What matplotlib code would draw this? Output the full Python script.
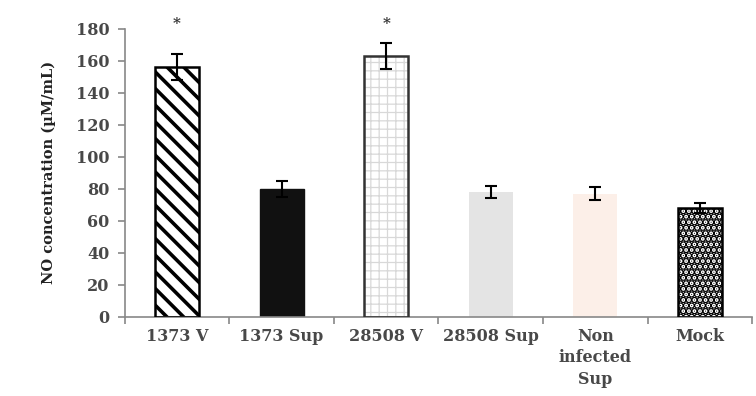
import numpy as np
import matplotlib
matplotlib.use("Agg")
import matplotlib.pyplot as plt
from matplotlib.ticker import FixedLocator

# ── Data ──────────────────────────────────────────────────────────────────────
categories = ["1373 V", "1373 Sup", "28508 V", "28508 Sup", "Non\ninfected\nSup", "Mock"]
no_conc = [156, 80, 163, 78, 77, 68]
no_err = [8, 5, 8, 4, 4, 3]
significant = [True, False, True, False, False, False]

# ── Style per bar ─────────────────────────────────────────────────────────────
faces = ["white", "#111111", "white", "#e4e4e4", "#fcefe8", "white"]
hatches = ["\\\\", None, "++", None, None, "..."]
hatch_colors = ["black", None, "#d8d8d8", None, None, "black"]
hatch_widths = [2.6, 1.0, 0.9, 1.0, 1.0, 3.6]
edges = ["black", "#111111", "#333333", "none", "none", "black"]

plt.rcParams["font.family"] = ["DejaVu Serif"]

fig = plt.figure(figsize=(7.56, 3.96), dpi=100)
ax = fig.add_axes([0.165, 0.20, 0.830, 0.727])

x = np.arange(len(categories))
width = 0.42
for i in range(len(categories)):
    if hatches[i]:
        # hatch layer first, then an outline on top
        b = ax.bar(x[i], no_conc[i], width, color=faces[i], edgecolor=hatch_colors[i],
                   hatch=hatches[i], linewidth=0, zorder=2)
        for p in b:
            if hasattr(p, "set_hatch_linewidth"):
                p.set_hatch_linewidth(hatch_widths[i])
        ax.bar(x[i], no_conc[i], width, color="none", edgecolor=edges[i],
               linewidth=1.8, zorder=3)
    else:
        ax.bar(x[i], no_conc[i], width, color=faces[i], edgecolor=edges[i],
               linewidth=1.0, zorder=2)

ax.errorbar(x, no_conc, yerr=no_err, fmt="none", ecolor="black", elinewidth=1.5,
            capsize=4.5, capthick=1.5, zorder=4)

for xi, sig in zip(x, significant):
    if sig:
        ax.text(xi, 179, "*", ha="center", va="bottom", fontsize=11,
                fontweight="bold", color="#333333", clip_on=False)

ax.set_xlim(-0.5, len(categories) - 0.5)
ax.set_ylim(0, 180)
ax.set_yticks(np.arange(0, 181, 20))

# category ticks sit between bars; labels go on minor positions
ax.xaxis.set_major_locator(FixedLocator(np.arange(-0.5, len(categories), 1.0)))
ax.set_xticklabels([])
ax.xaxis.set_minor_locator(FixedLocator(x))
ax.set_xticklabels(categories, minor=True)
ax.tick_params(axis="x", which="minor", length=0, pad=8)
ax.tick_params(axis="x", which="major", direction="out", length=5, color="#888888", width=1.2)
ax.tick_params(axis="y", direction="out", length=5, color="#888888", width=1.2, pad=6)

for lbl in ax.get_xticklabels(minor=True) + ax.get_yticklabels():
    lbl.set_fontsize(11.5)
    lbl.set_fontweight("bold")
    lbl.set_color("#484848")
    lbl.set_linespacing(1.35)

for side in ["top", "right"]:
    ax.spines[side].set_visible(False)
for side in ["left", "bottom"]:
    ax.spines[side].set_color("#888888")
    ax.spines[side].set_linewidth(1.2)

ax.set_ylabel("NO concentration (\u00b5M/mL)", fontsize=10.5, fontweight="bold",
              color="#222222", labelpad=14)

fig.savefig("out.png", dpi=100, facecolor="white")
